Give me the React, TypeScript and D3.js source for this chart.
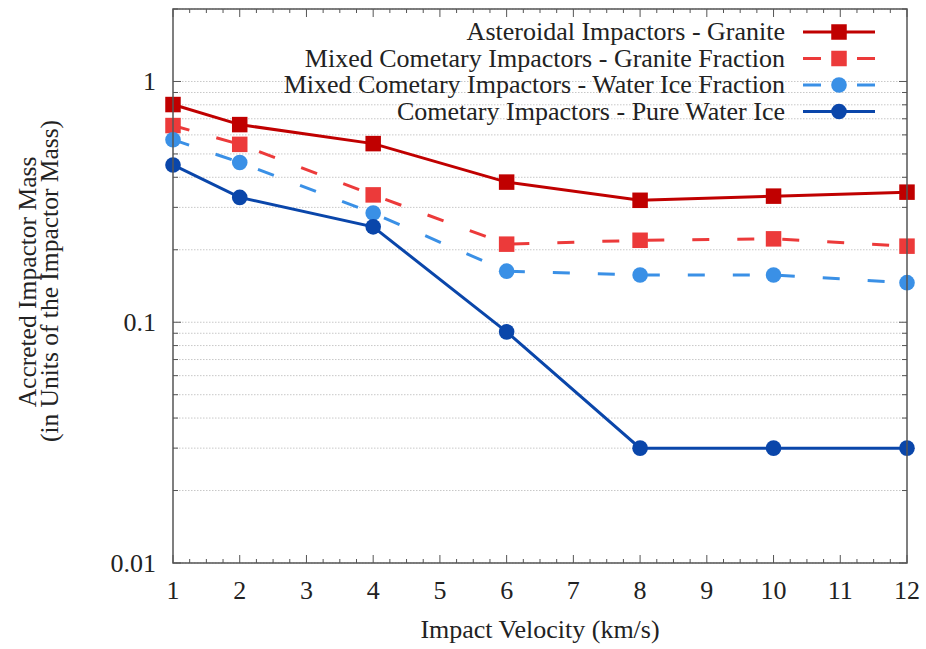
import React from "react";
import * as d3 from "d3";

// Impact velocities (km/s)
const velocities = [1, 2, 4, 6, 8, 10, 12];

// Accreted mass fraction for each impactor type
const asteroidalGranite = [0.802, 0.662, 0.552, 0.382, 0.321, 0.334, 0.347];
const mixedGraniteFraction = [0.656, 0.548, 0.338, 0.211, 0.219, 0.222, 0.207];
const mixedWaterIceFraction = [0.573, 0.461, 0.284, 0.163, 0.157, 0.157, 0.146];
const cometaryPureWaterIce = [0.45, 0.33, 0.249, 0.0912, 0.03, 0.03, 0.03];

const seriesNames = [
  "Asteroidal Impactors - Granite",
  "Mixed Cometary Impactors - Granite Fraction",
  "Mixed Cometary Impactors - Water Ice Fraction",
  "Cometary Impactors - Pure Water Ice",
];

const xTickValues = [1, 2, 3, 4, 5, 6, 7, 8, 9, 10, 11, 12];
const yMajorTicks = [0.01, 0.1, 1];
const yTickLabels = ["0.01", "0.1", "1"];

const W = 926;
const H = 649;
const FONT = "'Liberation Serif', 'Times New Roman', serif";
const FS = 26;

type Series = {
  name: string;
  values: number[];
  color: string;
  dash: string | null;
  marker: "square" | "circle";
};

const series: Series[] = [
  { name: seriesNames[0], values: asteroidalGranite, color: "#c00000", dash: null, marker: "square" },
  { name: seriesNames[1], values: mixedGraniteFraction, color: "#ec3a3a", dash: "17 28", marker: "square" },
  { name: seriesNames[2], values: mixedWaterIceFraction, color: "#3a90e6", dash: "17 28", marker: "circle" },
  { name: seriesNames[3], values: cometaryPureWaterIce, color: "#0a46aa", dash: null, marker: "circle" },
];

function Marker({ kind, x, y, color }: { kind: string; x: number; y: number; color: string }) {
  if (kind === "square") {
    const s = 15.5;
    return <rect x={x - s / 2} y={y - s / 2} width={s} height={s} fill={color} />;
  }
  return <circle cx={x} cy={y} r={7.8} fill={color} />;
}

export default function App() {
  const left = 173;
  const right = 907;
  const top = 9;
  const bottom = 563;

  const x = d3.scaleLinear().domain([1, 12]).range([left, right]);
  const y = d3.scaleLog().domain([0.01, 2]).range([bottom, top]);

  const line = d3
    .line<number>()
    .x((_, i) => x(velocities[i]))
    .y((v) => y(v));

  // minor y ticks: 2..9 in each decade
  const yMinor: number[] = [];
  [0.01, 0.1, 1].forEach((d) => {
    for (let k = 2; k <= 9; k++) {
      const v = d * k;
      if (v <= 2) yMinor.push(v);
    }
  });
  const xMinor = d3.range(1, 12.001, 0.25).filter((v) => Math.abs(v - Math.round(v)) > 1e-6);

  const frameColor = "#555";
  const textColor = "#222";
  const legendRows = [32, 58.5, 85, 111.5];

  return (
    <svg
      width={W}
      height={H}
      style={{ position: "absolute", left: 0, top: 0, background: "#fff" }}
      fontFamily={FONT}
    >
      <rect x={0} y={0} width={W} height={H} fill="#fff" />

      {/* horizontal grid */}
      {[...yMinor, ...yMajorTicks].map((v, i) => (
        <line
          key={"g" + i}
          x1={left}
          x2={right}
          y1={y(v)}
          y2={y(v)}
          stroke="#c8c8c8"
          strokeWidth={1}
          strokeDasharray="1.5 1.5"
        />
      ))}

      {/* ticks on all four sides */}
      {xTickValues.map((v) => (
        <g key={"xt" + v}>
          <line x1={x(v)} x2={x(v)} y1={bottom} y2={bottom - 8} stroke={frameColor} strokeWidth={1} />
          <line x1={x(v)} x2={x(v)} y1={top} y2={top + 8} stroke={frameColor} strokeWidth={1} />
        </g>
      ))}
      {xMinor.map((v, i) => (
        <g key={"xm" + i}>
          <line x1={x(v)} x2={x(v)} y1={bottom} y2={bottom - 4} stroke={frameColor} strokeWidth={1} />
          <line x1={x(v)} x2={x(v)} y1={top} y2={top + 4} stroke={frameColor} strokeWidth={1} />
        </g>
      ))}
      {yMajorTicks.map((v) => (
        <g key={"yt" + v}>
          <line x1={left} x2={left + 8} y1={y(v)} y2={y(v)} stroke={frameColor} strokeWidth={1} />
          <line x1={right} x2={right - 8} y1={y(v)} y2={y(v)} stroke={frameColor} strokeWidth={1} />
        </g>
      ))}
      {yMinor.map((v, i) => (
        <g key={"ym" + i}>
          <line x1={left} x2={left + 5} y1={y(v)} y2={y(v)} stroke={frameColor} strokeWidth={1} />
          <line x1={right} x2={right - 5} y1={y(v)} y2={y(v)} stroke={frameColor} strokeWidth={1} />
        </g>
      ))}

      {/* tick labels */}
      {xTickValues.map((v) => (
        <text key={"xl" + v} x={x(v)} y={599} textAnchor="middle" fontSize={FS} fill={textColor}>
          {v}
        </text>
      ))}
      {yMajorTicks.map((v, i) => (
        <text key={"yl" + v} x={156} y={y(v) + 8.5} textAnchor="end" fontSize={FS} fill={textColor}>
          {yTickLabels[i]}
        </text>
      ))}

      {/* axis titles */}
      <text x={(left + right) / 2} y={638} textAnchor="middle" fontSize={FS} fill={textColor}>
        Impact Velocity (km/s)
      </text>
      <text transform={`translate(36,282) rotate(-90)`} textAnchor="middle" fontSize={25.5} fill={textColor}>
        Accreted Impactor Mass
      </text>
      <text transform={`translate(58,281) rotate(-90)`} textAnchor="middle" fontSize={25.5} fill={textColor}>
        (in Units of the Impactor Mass)
      </text>

      {/* data series */}
      {series.map((s) => (
        <g key={s.name}>
          <path
            d={line(s.values) || ""}
            fill="none"
            stroke={s.color}
            strokeWidth={3}
            strokeDasharray={s.dash || undefined}
          />
          {s.values.map((v, i) => (
            <Marker key={i} kind={s.marker} x={x(velocities[i])} y={y(v)} color={s.color} />
          ))}
        </g>
      ))}

      {/* legend */}
      {series.map((s, i) => {
        const ly = legendRows[i];
        return (
          <g key={"leg" + i}>
            <text x={785} y={ly + 8} textAnchor="end" fontSize={FS} fill={textColor}>
              {s.name}
            </text>
            {s.dash ? (
              <>
                <line x1={803} x2={821} y1={ly} y2={ly} stroke={s.color} strokeWidth={3} />
                <line x1={857} x2={875} y1={ly} y2={ly} stroke={s.color} strokeWidth={3} />
              </>
            ) : (
              <line x1={803} x2={875} y1={ly} y2={ly} stroke={s.color} strokeWidth={3} />
            )}
            <Marker kind={s.marker} x={839} y={ly} color={s.color} />
          </g>
        );
      })}

      {/* frame */}
      <rect
        x={left}
        y={top}
        width={right - left}
        height={bottom - top}
        fill="none"
        stroke={frameColor}
        strokeWidth={1.5}
      />
    </svg>
  );
}
